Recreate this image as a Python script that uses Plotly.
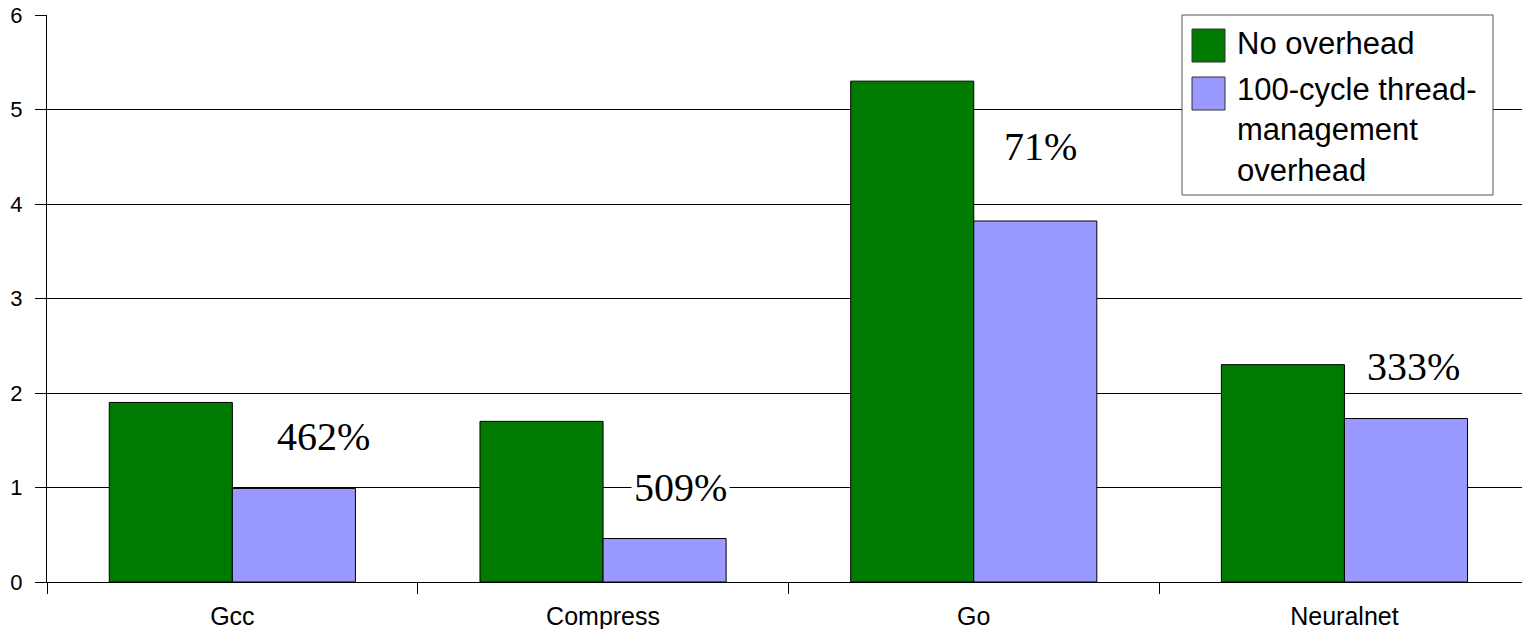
import plotly.graph_objects as go

# Benchmarks and speedups
categories = ["Gcc", "Compress", "Go", "Neuralnet"]
series_names = ["No overhead", "100-cycle thread-<br>management<br>overhead"]
no_overhead = [1.90, 1.70, 5.30, 2.30]
with_overhead = [0.99, 0.46, 3.82, 1.73]

# Percentage labels placed beside each benchmark group
pct_labels = ["462%", "509%", "71%", "333%"]
pct_y = [1.54, 1.00, 4.61, 2.28]
pct_xshift = [91, 77, 67, 69]

y_ticks = [0, 1, 2, 3, 4, 5, 6]

GREEN = "#007A00"
PURPLE = "#9999FF"
SANS = "Arial, Liberation Sans, sans-serif"
SERIF = "Times New Roman, Liberation Serif, serif"

W, H = 1522, 629
ML, MR, MT, MB = 47, 0, 15, 47
PW, PH = W - ML - MR, H - MT - MB

fig = go.Figure()
fig.add_trace(go.Bar(x=categories, y=no_overhead, name=series_names[0],
                     marker=dict(color=GREEN, line=dict(color="black", width=1)),
                     showlegend=False))
fig.add_trace(go.Bar(x=categories, y=with_overhead, name=series_names[1],
                     marker=dict(color=PURPLE, line=dict(color="black", width=1)),
                     showlegend=False))

for cat, txt, yv, dx in zip(categories, pct_labels, pct_y, pct_xshift):
    fig.add_annotation(x=cat, y=yv, xref="x", yref="y", text=txt, showarrow=False,
                       xshift=dx, font=dict(family=SERIF, size=40, color="black"),
                       bgcolor="white", borderpad=2)


def px_x(p):
    return (p - ML) / PW


def px_y(p):
    return (H - MB - p) / PH


# Legend box with large swatches
fig.add_shape(type="rect", xref="paper", yref="paper",
              x0=px_x(1182), x1=px_x(1493), y0=px_y(195), y1=px_y(15),
              line=dict(color="#555555", width=1), fillcolor="white", layer="above")
swatch_tops = [29, 77]
for top, col in zip(swatch_tops, [GREEN, PURPLE]):
    fig.add_shape(type="rect", xref="paper", yref="paper",
                  x0=px_x(1192), x1=px_x(1225), y0=px_y(top + 33), y1=px_y(top),
                  line=dict(color="#333333", width=1), fillcolor=col, layer="above")
text_tops = [24, 70]
for top, name in zip(text_tops, series_names):
    fig.add_annotation(x=px_x(1235), y=px_y(top), xref="paper", yref="paper",
                       xanchor="left", yanchor="top", align="left", text=name,
                       showarrow=False, font=dict(family=SANS, size=31, color="black"))

fig.update_layout(
    width=W, height=H,
    margin=dict(l=ML, r=MR, t=MT, b=MB, pad=0),
    paper_bgcolor="white", plot_bgcolor="white",
    barmode="group", bargap=0.336, bargroupgap=0,
    font=dict(family=SANS, color="black"),
)
fig.update_xaxes(
    type="category", range=[-0.5, -0.5 + PW / 370.7],
    tickson="boundaries", ticks="outside", ticklen=11, tickwidth=1, tickcolor="black",
    showline=True, linecolor="black", linewidth=1,
    showgrid=False, tickfont=dict(size=25, family=SANS), ticklabelstandoff=12,
)
fig.update_yaxes(
    range=[0, 6], tickvals=y_ticks, ticks="outside", ticklen=11, tickwidth=1,
    tickcolor="black", showline=True, linecolor="black", linewidth=1,
    showgrid=True, gridcolor="black", gridwidth=1, zeroline=False,
    tickfont=dict(size=22, family=SANS), ticklabelstandoff=8,
)

fig.write_html("out.html")
